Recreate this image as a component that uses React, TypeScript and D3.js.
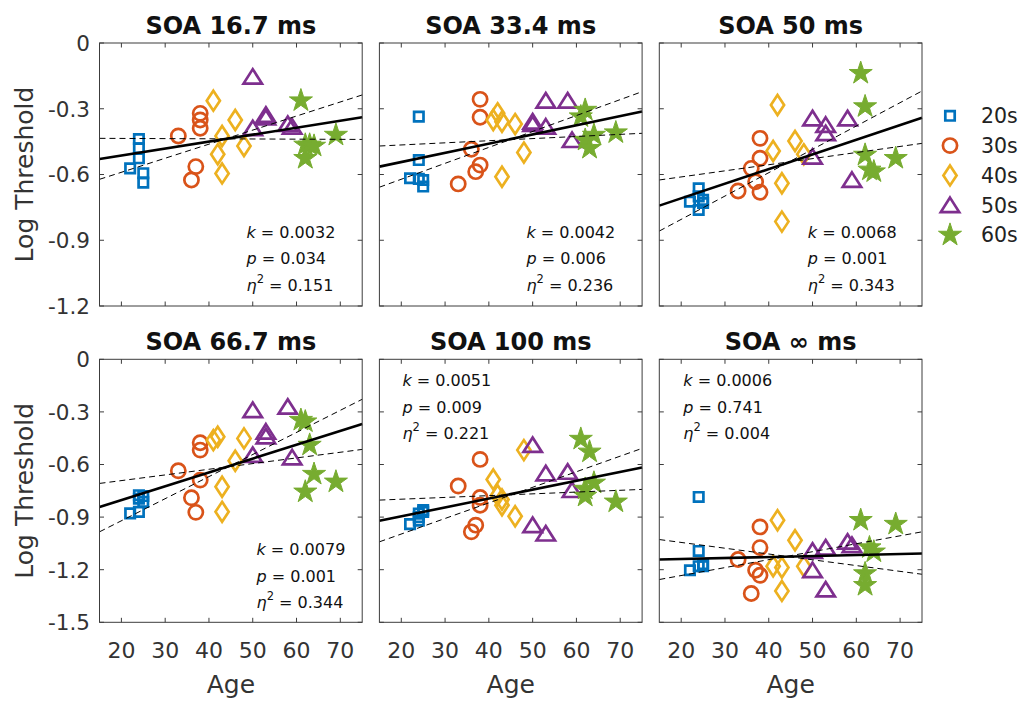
import React from "react";
import * as d3 from "d3";

// groups / legend
const groupNames = ["20s", "30s", "40s", "50s", "60s"];
const groupColors = ["#0072BD", "#D95319", "#EDB120", "#7E2F8E", "#77AC30"];

// subject ages by decade group
const ages20s = [22, 24, 24, 24, 25, 25];
const ages30s = [33, 36, 37, 38, 38, 38];
const ages40s = [41, 42, 43, 43, 46, 48];
const ages50s = [50, 50, 53, 53, 58, 59];
const ages60s = [61, 62, 62, 63, 64, 69];

// log thresholds per SOA, same subject order as the ages above
const soa167 = [
  -0.572, -0.438, -0.48, -0.526, -0.594, -0.637,
  -0.424, -0.625, -0.564, -0.321, -0.351, -0.389,
  -0.263, -0.508, -0.424, -0.595, -0.351, -0.47,
  -0.154, -0.389, -0.328, -0.34, -0.37, -0.382,
  -0.263, -0.465, -0.526, -0.465, -0.47, -0.42,
];
const soa334 = [
  -0.617, -0.336, -0.534, -0.62, -0.625, -0.655,
  -0.643, -0.485, -0.587, -0.257, -0.339, -0.557,
  -0.351, -0.321, -0.359, -0.61, -0.37, -0.5,
  -0.359, -0.37, -0.263, -0.382, -0.263, -0.443,
  -0.336, -0.306, -0.443, -0.48, -0.42, -0.409,
];
const soa50 = [
  -0.724, -0.663, -0.7, -0.762, -0.716, -0.73,
  -0.675, -0.572, -0.633, -0.435, -0.526, -0.681,
  -0.493, -0.283, -0.64, -0.815, -0.447, -0.508,
  -0.344, -0.519, -0.374, -0.412, -0.344, -0.625,
  -0.138, -0.29, -0.511, -0.579, -0.587, -0.526,
];
const soa667 = [
  -0.879, -0.775, -0.795, -0.87, -0.813, -0.78,
  -0.636, -0.79, -0.873, -0.476, -0.518, -0.689,
  -0.461, -0.442, -0.727, -0.87, -0.579, -0.451,
  -0.29, -0.546, -0.413, -0.44, -0.271, -0.56,
  -0.347, -0.356, -0.756, -0.489, -0.655, -0.699,
];
const soa100 = [
  -0.94, -0.9, -0.88, -0.92, -0.86, -0.87,
  -0.723, -0.984, -0.946, -0.571, -0.788, -0.832,
  -0.685, -0.775, -0.8, -0.832, -0.895, -0.518,
  -0.489, -0.946, -0.651, -0.994, -0.642, -0.746,
  -0.455, -0.74, -0.78, -0.528, -0.705, -0.813,
];
const soaInf = [
  -1.203, -0.785, -1.093, -1.18, -1.169, -1.18,
  -1.142, -1.336, -1.203, -0.956, -1.074, -1.232,
  -1.18, -0.918, -1.188, -1.321, -1.032, -1.18,
  -1.093, -1.203, -1.074, -1.313, -1.041, -1.06,
  -0.918, -1.222, -1.289, -1.074, -1.098, -0.94,
];

const panelTitles = ["SOA 16.7 ms", "SOA 33.4 ms", "SOA 50 ms", "SOA 66.7 ms", "SOA 100 ms", "SOA \u221E ms"];
const panelValues = [soa167, soa334, soa50, soa667, soa100, soaInf];

// regression stats
const slopeK = ["0.0032", "0.0042", "0.0068", "0.0079", "0.0051", "0.0006"];
const pValues = ["0.034", "0.006", "0.001", "0.001", "0.009", "0.741"];
const etaSq = ["0.151", "0.236", "0.343", "0.344", "0.221", "0.004"];

// fitted line and slope-CI lines, value at age 15 and at age 75
const fit15 = [-0.529, -0.564, -0.742, -0.842, -0.921, -1.142];
const fit75 = [-0.339, -0.313, -0.341, -0.369, -0.617, -1.108];
const ciA15 = [-0.435, -0.47, -0.625, -0.708, -0.803, -1.028];
const ciA75 = [-0.44, -0.412, -0.458, -0.514, -0.742, -1.226];
const ciB15 = [-0.622, -0.658, -0.858, -0.984, -1.041, -1.256];
const ciB75 = [-0.237, -0.222, -0.219, -0.228, -0.508, -0.984];

const ageTicks = [20, 30, 40, 50, 60, 70];
const topRowTicks = [0, -0.3, -0.6, -0.9, -1.2];
const bottomRowTicks = [0, -0.3, -0.6, -0.9, -1.2, -1.5];

const ages = [...ages20s, ...ages30s, ...ages40s, ...ages50s, ...ages60s];
const groupIndex = ages.map((_, i) => Math.floor(i / 6));

// layout
const FONT = "'DejaVu Sans', sans-serif";
const colLeft = [99.5, 379.4, 659.3];
const rowTop = [43, 359.3];
const panelW = 262.7;
const panelH = 263;
const statsPos = [
  [147, 195], [147, 195], [148.5, 195],
  [157, 196], [23, 27], [24, 27],
];
const axisColor = "#3c3c3c";

const starPath = d3.symbol(d3.symbolStar, 165)();

function Marker({ g, color }) {
  const sw = 2.7;
  if (g === 0) return <path d="M-4.7,-4.7H4.7V4.7H-4.7Z" fill="none" stroke={color} strokeWidth={sw} />;
  if (g === 1) return <circle r={7.1} fill="none" stroke={color} strokeWidth={sw} />;
  if (g === 2) return <path d="M0,-10L6.6,0L0,10L-6.6,0Z" fill="none" stroke={color} strokeWidth={sw} />;
  if (g === 3) return <path d="M0,-7.6L9.2,6.9L-9.2,6.9Z" fill="none" stroke={color} strokeWidth={sw} strokeLinejoin="miter" />;
  return <path d={starPath} fill={color} stroke={color} strokeWidth={1} />;
}

function Panel({ idx }) {
  const row = Math.floor(idx / 3);
  const col = idx % 3;
  const x0 = colLeft[col];
  const y0 = rowTop[row];
  const yTicks = row === 0 ? topRowTicks : bottomRowTicks;
  const x = d3.scaleLinear().domain([15, 75]).range([x0, x0 + panelW]);
  const y = d3.scaleLinear().domain([yTicks[yTicks.length - 1], 0]).range([y0 + panelH, y0]);
  const line = d3.line().x((d) => x(d[0])).y((d) => y(d[1]));
  const vals = panelValues[idx];
  const tl = 4.5;
  const [sx, sy] = statsPos[idx];
  const fmt = (v) => (v === 0 ? "0" : v.toFixed(1));

  return (
    <g>
      <text x={x0 + panelW / 2} y={y0 - 9} textAnchor="middle" fontFamily={FONT} fontWeight="bold" fontSize={24} fill="#111">
        {panelTitles[idx]}
      </text>
      <rect x={x0} y={y0} width={panelW} height={panelH} fill="#fff" />
      {/* ticks */}
      {ageTicks.map((t) => (
        <g key={"xt" + t}>
          <line x1={x(t)} x2={x(t)} y1={y0 + panelH} y2={y0 + panelH - tl} stroke={axisColor} />
          <line x1={x(t)} x2={x(t)} y1={y0} y2={y0 + tl} stroke={axisColor} />
        </g>
      ))}
      {yTicks.map((t) => (
        <g key={"yt" + t}>
          <line x1={x0} x2={x0 + tl} y1={y(t)} y2={y(t)} stroke={axisColor} />
          <line x1={x0 + panelW} x2={x0 + panelW - tl} y1={y(t)} y2={y(t)} stroke={axisColor} />
        </g>
      ))}
      {col === 0 &&
        yTicks.map((t) => (
          <text key={"yl" + t} x={x0 - 9.5} y={y(t) + 7.8} textAnchor="end" fontFamily={FONT} fontSize={21.5} fill="#333">
            {fmt(t)}
          </text>
        ))}
      {row === 1 &&
        ageTicks.map((t) => (
          <text key={"xl" + t} x={x(t)} y={658} textAnchor="middle" fontFamily={FONT} fontSize={22} fill="#333">
            {t}
          </text>
        ))}
      {/* scatter */}
      {vals.map((v, i) => (
        <g key={"m" + i} transform={`translate(${x(ages[i])},${y(v)})`}>
          <Marker g={groupIndex[i]} color={groupColors[groupIndex[i]]} />
        </g>
      ))}
      {/* regression + CI lines */}
      <path d={line([[15, ciA15[idx]], [75, ciA75[idx]]])} fill="none" stroke="#000" strokeWidth={1} strokeDasharray="6,4" />
      <path d={line([[15, ciB15[idx]], [75, ciB75[idx]]])} fill="none" stroke="#000" strokeWidth={1} strokeDasharray="6,4" />
      <path d={line([[15, fit15[idx]], [75, fit75[idx]]])} fill="none" stroke="#000" strokeWidth={2.6} />
      {/* box */}
      <rect x={x0} y={y0} width={panelW} height={panelH} fill="none" stroke={axisColor} strokeWidth={1} />
      {/* stats */}
      <g fontFamily={FONT} fontSize={16} fill="#111">
        <text x={x0 + sx} y={y0 + sy}>
          <tspan fontStyle="italic">k</tspan> = {slopeK[idx]}
        </text>
        <text x={x0 + sx} y={y0 + sy + 26.3}>
          <tspan fontStyle="italic">p</tspan> = {pValues[idx]}
        </text>
        <text x={x0 + sx} y={y0 + sy + 52.6}>
          <tspan fontStyle="italic">{"\u03B7"}</tspan>
          <tspan fontSize={11.5} dy={-8}>2</tspan>
          <tspan dy={8}> = {etaSq[idx]}</tspan>
        </text>
      </g>
    </g>
  );
}

export default function App() {
  return (
    <svg width={1022} height={702} style={{ position: "absolute", left: 0, top: 0, background: "#fff" }}>
      <rect width={1022} height={702} fill="#fff" />
      {[0, 1, 2, 3, 4, 5].map((i) => (
        <Panel key={i} idx={i} />
      ))}
      {rowTop.map((t, r) => (
        <text
          key={"yl" + r}
          transform={`translate(33,${t + panelH / 2}) rotate(-90)`}
          textAnchor="middle"
          fontFamily={FONT}
          fontSize={25}
          fill="#333"
        >
          Log Threshold
        </text>
      ))}
      {colLeft.map((l, c) => (
        <text key={"xl" + c} x={l + panelW / 2} y={693} textAnchor="middle" fontFamily={FONT} fontSize={25} fill="#333">
          Age
        </text>
      ))}
      {/* legend */}
      {groupNames.map((n, g) => (
        <g key={n} transform={`translate(0,${115.8 + g * 29.8})`}>
          <g transform="translate(950,0)">
            <Marker g={g} color={groupColors[g]} />
          </g>
          <text x={981} y={7.4} fontFamily={FONT} fontSize={20.5} fill="#222">
            {n}
          </text>
        </g>
      ))}
    </svg>
  );
}
